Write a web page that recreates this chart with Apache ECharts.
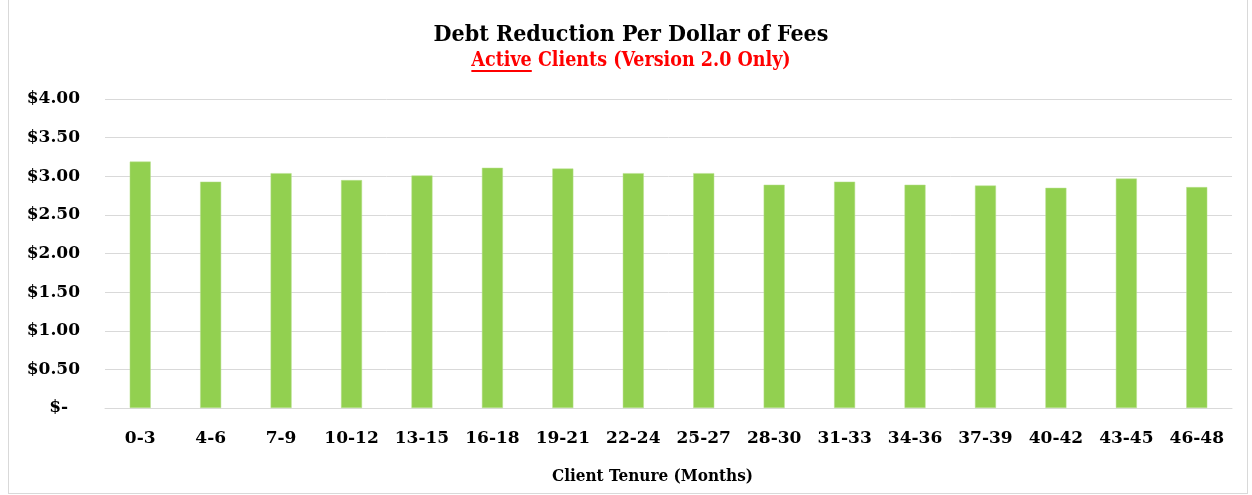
<!DOCTYPE html>
<html><head><meta charset="utf-8">
<script src="https://cdn.jsdelivr.net/npm/echarts@6/dist/echarts.min.js"></script>
<style>html,body{margin:0;padding:0;background:#fff}
#frame{position:absolute;left:8px;top:-1px;width:1240px;height:495px;border:1px solid #d9d9d9;box-sizing:border-box}
#c{position:absolute;left:0;top:0;width:1252px;height:495px}</style>
</head><body><div id="frame"></div><div id="c"></div>
<script>
const categories = ['0-3','4-6','7-9','10-12','13-15','16-18','19-21','22-24','25-27','28-30','31-33','34-36','37-39','40-42','43-45','46-48'];
const values = [3.19, 2.93, 3.04, 2.95, 3.01, 3.11, 3.10, 3.04, 3.04, 2.89, 2.93, 2.89, 2.88, 2.85, 2.97, 2.86];
const yTicks = [0, 0.5, 1, 1.5, 2, 2.5, 3, 3.5, 4];
const titleText = 'Debt Reduction Per Dollar of Fees';
const subActive = 'Active';
const subRest = ' Clients (Version 2.0 Only)';

const FONT = '"DejaVu Serif", serif';
const CFONT = '"DejaVu Serif Condensed", "DejaVu Serif", serif';
const subFont = 'bold 19.5px ' + CFONT;
const cv = document.createElement('canvas').getContext('2d');
cv.font = subFont;
const wActive = cv.measureText(subActive).width;
const wRest = cv.measureText(subRest).width;
const cx = 631;
const x0 = cx - (wActive + wRest) / 2;

const chart = echarts.init(document.getElementById('c'), null, {renderer: 'canvas'});
chart.setOption({
  animation: false,
  grid: {left: 105, right: 20, top: 99, bottom: 87},
  graphic: [
    {type: 'text', x: cx, y: 35, style: {text: titleText, font: 'bold 23px ' + CFONT, fill: '#000', textAlign: 'center', textVerticalAlign: 'middle'}},
    {type: 'text', x: x0, y: 61, style: {text: subActive, font: subFont, fill: '#ff0000', textAlign: 'left', textVerticalAlign: 'middle'}},
    {type: 'text', x: x0 + wActive, y: 61, style: {text: subRest, font: subFont, fill: '#ff0000', textAlign: 'left', textVerticalAlign: 'middle'}},
    {type: 'rect', shape: {x: x0, y: 70, width: wActive, height: 2}, style: {fill: '#ff0000'}}
  ],
  xAxis: {
    type: 'category', data: categories,
    name: 'Client Tenure (Months)', nameLocation: 'middle', nameGap: 60,
    nameTextStyle: {fontFamily: CFONT, fontWeight: 'bold', fontSize: 17, color: '#000', padding: [0, 32, 0, 0]},
    axisLine: {lineStyle: {color: '#d9d9d9', width: 1}},
    axisTick: {show: false},
    axisLabel: {fontFamily: FONT, fontWeight: 'bold', fontSize: 17, color: '#000', margin: 22, interval: 0}
  },
  yAxis: {
    type: 'value', min: 0, max: 4, interval: 0.5,
    axisLine: {show: false}, axisTick: {show: false},
    splitLine: {lineStyle: {color: '#d9d9d9', width: 1}},
    axisLabel: {fontFamily: FONT, fontWeight: 'bold', fontSize: 17, color: '#000', margin: 25,
      formatter: v => v === 0 ? '$-  ' : '$' + v.toFixed(2)}
  },
  series: [{
    type: 'bar', data: values, barWidth: 21,
    itemStyle: {color: '#92d050', borderColor: '#b9e08f', borderWidth: 0.5}
  }]
});
</script></body></html>
